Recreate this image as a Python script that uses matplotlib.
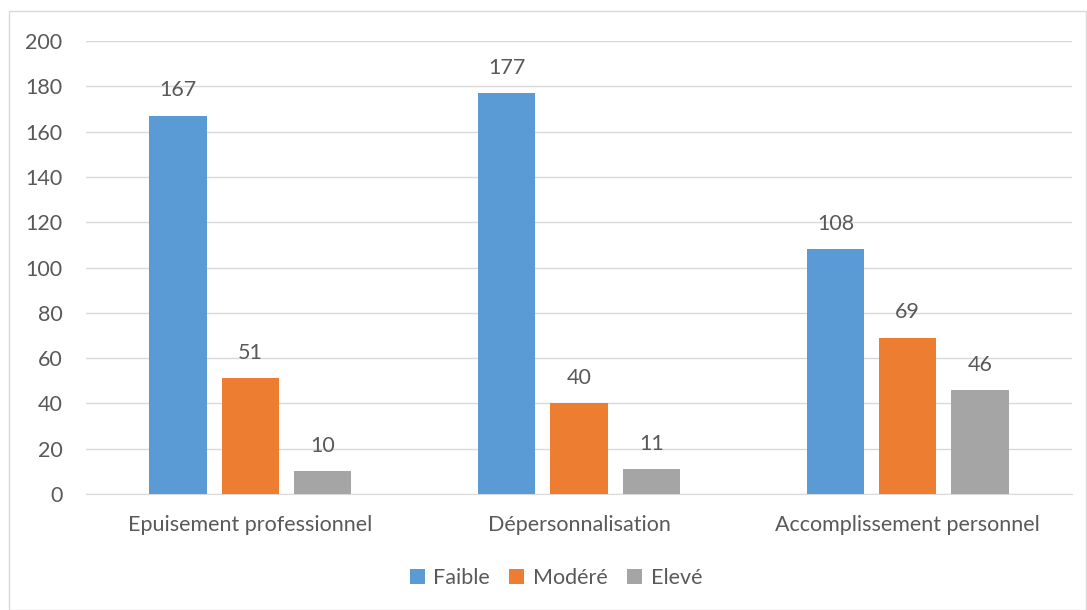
import matplotlib.pyplot as plt
from matplotlib.patches import Rectangle
import numpy as np

categories = ["Epuisement professionnel", "Dépersonnalisation", "Accomplissement personnel"]
series_names = ["Faible", "Modéré", "Elevé"]
faible = [167, 177, 108]
modere = [51, 40, 69]
eleve = [10, 11, 46]
colors = ["#5b9bd5", "#ed7d31", "#a5a5a5"]

plt.rcParams['font.family'] = ['Lato', 'DejaVu Sans']
text_color = '#595959'
fs = 15.5

fig = plt.figure(figsize=(10.87, 6.1), dpi=100)
fig.patches.append(Rectangle((9 / 1087, 0), 1 - 9 / 1087 - 0.0005, 1 - 11 / 610,
                             transform=fig.transFigure, fill=False,
                             edgecolor='#d9d9d9', linewidth=1))
ax = fig.add_axes([86 / 1087, 116 / 610, 986 / 1087, 453 / 610])

x = np.arange(len(categories))
width = 0.174
step = 0.22
for i, (name, vals) in enumerate(zip(series_names, [faible, modere, eleve])):
    pos = x + (i - 1) * step
    bars = ax.bar(pos, vals, width, color=colors[i], label=name, zorder=3)
    for b, v in zip(bars, vals):
        ax.annotate(str(v), (b.get_x() + b.get_width() / 2, v),
                    xytext=(0, 11), textcoords='offset points',
                    ha='center', va='bottom', fontsize=fs, color=text_color)

ax.set_xlim(-0.5, 2.5)
ax.set_ylim(0, 200)
ax.set_yticks(range(0, 201, 20))
ax.set_xticks(x)
ax.set_xticklabels(categories)
ax.tick_params(axis='both', length=0, labelsize=fs, labelcolor=text_color)
ax.tick_params(axis='x', pad=15)
ax.tick_params(axis='y', pad=17)
ax.grid(axis='y', color='#d9d9d9', linewidth=1, zorder=0)
for s in ['top', 'right', 'left']:
    ax.spines[s].set_visible(False)
ax.spines['bottom'].set_color('#d9d9d9')

leg = fig.legend(*ax.get_legend_handles_labels(), loc='center',
                 bbox_to_anchor=(556 / 1087, 1 - 578 / 610), ncol=3, frameon=False,
                 fontsize=fs, handlelength=0.7, handleheight=0.7, handletextpad=0.4,
                 columnspacing=0.9)
for t in leg.get_texts():
    t.set_color(text_color)

fig.savefig('out.png', dpi=100)
